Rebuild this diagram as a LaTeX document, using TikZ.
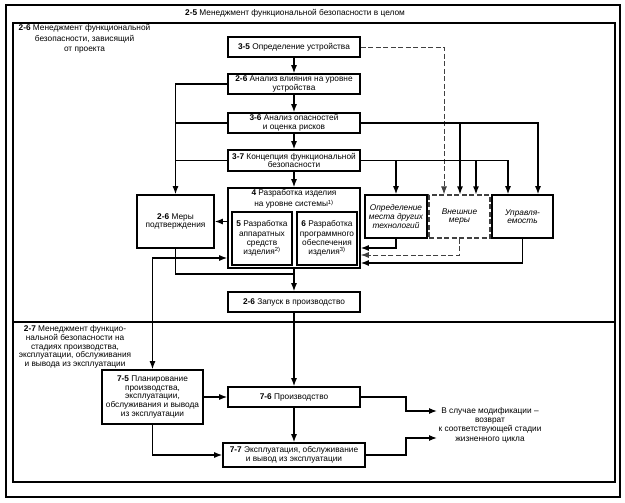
\documentclass[tikz,border=0pt]{standalone}
\usepackage{fontspec}
\setmainfont{Liberation Sans}
\usetikzlibrary{arrows.meta}
\newcommand\dfont{\fontsize{8.3}{8.6}\selectfont}
\begin{document}
\begin{tikzpicture}[x=1pt,y=-1pt,
  box/.style={draw, line width=1.6pt, inner sep=1pt, align=center, font=\dfont, fill=white},
  dbox/.style={box, line width=1.2pt, draw=black!75, dash pattern=on 5pt off 2.5pt},
  txt/.style={inner sep=0pt, align=center, font=\dfont},
  conn/.style={line width=1.3pt},
  tip/.tip={Latex[length=8pt,width=6pt]},
  arr/.style={conn, -tip},
  darr/.style={arr, line width=0.9pt, draw=black!75, dash pattern=on 5pt off 2.5pt},
  frame/.style={line width=1.5pt}
]
\useasboundingbox (0,0) rectangle (625,503);
% frames
\draw[frame] (6,5) rectangle (620,497);
\draw[frame] (13,23) rectangle (615,482);
\draw[frame] (13,322) -- (615,322);
\node[txt] (title) at (295,13) {\textbf{2-5} Менеджмент функциональной безопасности в целом};
\node[txt, font=\fontsize{8.3}{10.4}\selectfont] (l26) at (84.5,39) {\textbf{2-6} Менеджмент функциональной\\безопасности, зависящий\\от проекта};
\node[txt] (l27) at (75,347) {\textbf{2-7} Менеджмент функцио-\\нальной безопасности на\\стадиях производства,\\эксплуатации, обслуживания\\и вывода из эксплуатации};
% main column
\node[box, minimum width=132pt, minimum height=20pt] (b35) at (294,47) {\textbf{3-5} Определение устройства};
\node[box, minimum width=132pt, minimum height=20pt] (b26) at (294,84) {\textbf{2-6} Анализ влияния на уровне\\устройства};
\node[box, minimum width=132pt, minimum height=20pt] (b36) at (294,123) {\textbf{3-6} Анализ опасностей\\и оценка рисков};
\node[box, minimum width=132pt, minimum height=21pt] (b37) at (294,160.5) {\textbf{3-7} Концепция функциональной\\безопасности};
\node[box, minimum width=132pt, minimum height=80pt] (b4) at (294,228) {};
\node[txt, font=\fontsize{8.3}{11.5}\selectfont] (t4) at (294,199) {\textbf{4} Разработка изделия\\на уровне системы\textsuperscript{1)}};
\node[box, minimum width=60pt, minimum height=53pt, font=\fontsize{8.3}{9.4}\selectfont] (b5) at (262,238.5) {\textbf{5} Разработка\\аппаратных\\средств\\изделия\textsuperscript{2)}};
\node[box, minimum width=60pt, minimum height=53pt, font=\fontsize{8.3}{9.4}\selectfont] (b6) at (327,238.5) {\textbf{6} Разработка\\программного\\обеспечения\\изделия\textsuperscript{3)}};
\node[box, minimum width=77pt, minimum height=53pt] (mery) at (175.5,221.5) {\textbf{2-6} Меры\\подтверждения};
\node[box, minimum width=132pt, minimum height=20pt] (zap) at (294,302) {\textbf{2-6} Запуск в производство};
% right boxes
\node[box, minimum width=62pt, minimum height=43pt, font=\itshape\dfont] (opr) at (396,216.5) {Определение\\места других\\технологий};
\node[dbox, minimum width=61pt, minimum height=43pt, font=\itshape\dfont] (vne) at (459.5,216.5) {Внешние\\меры};
\node[box, minimum width=61pt, minimum height=43pt, font=\itshape\dfont] (upr) at (522.5,216.5) {Управля-\\емость};
% lower section
\node[box, minimum width=101pt, minimum height=54pt] (b75) at (152.5,397) {\textbf{7-5} Планирование\\производства,\\эксплуатации,\\обслуживания и вывода\\из эксплуатации};
\node[box, minimum width=132pt, minimum height=20pt] (b76) at (294,397) {\textbf{7-6} Производство};
\node[box, minimum width=142pt, minimum height=24pt] (b77) at (294,455) {\textbf{7-7} Эксплуатация, обслуживание\\и вывод из эксплуатации};
\node[txt, font=\fontsize{8.3}{9.3}\selectfont] (mod) at (490,425) {В случае модификации --\\возврат\\к соответствующей стадии\\жизненного цикла};
\coordinate (m1) at (437,411);
\coordinate (m2) at (437,438);
% main chain
\draw[arr] (b35) -- (b26);
\draw[arr] (b26) -- (b36);
\draw[arr] (b36) -- (b37);
\draw[arr] (b37) -- (b4);
\draw[arr] (b4.south) -- (zap.north);
\draw[arr] (zap) -- (b76);
\draw[arr] (b76) -- (b77);
% right inputs
\draw[darr] (b35.east) -| ([xshift=-15.5pt]vne.north);
\draw[arr] (b36.east) -| ([xshift=15.5pt]upr.north);
\draw[arr] (460,123) -- (vne.north -| 460,0);
\draw[arr] (b37.east) -| ([xshift=-14.5pt]upr.north);
\draw[arr] (396,160.5) -- (opr.north);
\draw[arr] (476,160.5) -- (vne.north -| 476,0);
% returns
\draw[arr] (opr.south) |- (b4.east |- 0,248);
\draw[darr] (vne.south) |- (b4.east |- 0,255);
\draw[arr] (upr.south) |- (b4.east |- 0,263);
% left side
\draw[arr] (b26.west) -| (mery.north);
\draw[conn] (b36.west) -- (mery.north |- b36.west);
\draw[conn] (b37.west) -- (mery.north |- b37.west);
\draw[arr] (b4.west |- mery.east) -- (mery.east);
\draw[conn] (mery.south) |- (294,274);
\draw[conn, tip-tip] (b4.west |- 0,258) -| (b75.north);
% lower
\draw[arr] (b75.east) -- (b76.west);
\draw[arr] (b75.south) |- (b77.west);
\draw[arr] (b76.east) -| (406,411) -- (m1);
\draw[arr] (b77.east) -| (406,438) -- (m2);
\end{tikzpicture}
\end{document}
